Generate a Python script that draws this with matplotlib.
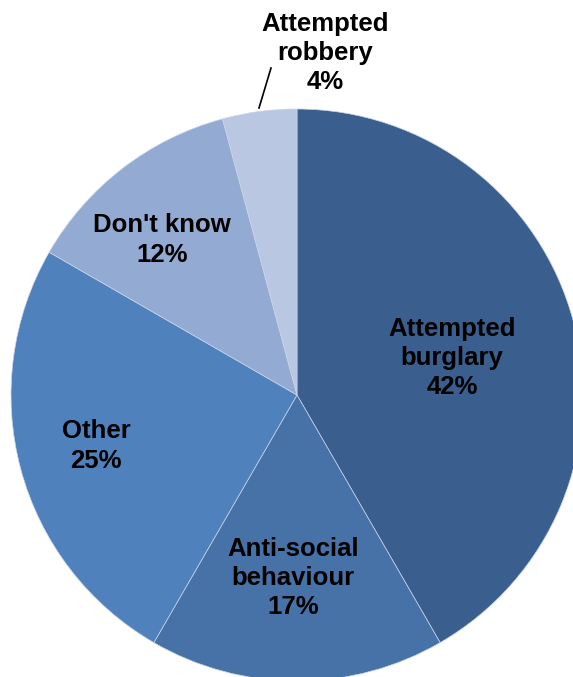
import matplotlib
matplotlib.use("Agg")
import matplotlib.pyplot as plt

categories = ["Attempted\nburglary", "Anti-social\nbehaviour", "Other", "Don't know", "Attempted\nrobbery"]
values = [41.7, 16.7, 25.0, 12.5, 4.2]
pct_labels = ["42%", "17%", "25%", "12%", "4%"]
colors = ["#3A5F8F", "#4672A8", "#4F81BD", "#93ABD2", "#B9C7E2"]

W, H = 573, 677
fig = plt.figure(figsize=(W / 100, H / 100), dpi=100)
ax = fig.add_axes([0, 0, 1, 1])

cx, cy, r = 297, H - 395, 286
wedges, _ = ax.pie(values, colors=colors, startangle=90, counterclock=False,
                   center=(cx, cy), radius=r, frame=True,
                   wedgeprops=dict(edgecolor="#C8D4E8", linewidth=0.5))
ax.set_xlim(0, W)
ax.set_ylim(0, H)
ax.axis("off")

label_pos = [(452, 358), (293, 578), (96, 446), (162, 240), (325, 53)]
for cat, p, (x, y) in zip(categories, pct_labels, label_pos):
    ax.text(x, H - y, f"{cat}\n{p}", ha="center", va="center",
            fontsize=18.5, fontweight="bold", family="Liberation Sans",
            linespacing=1.27, color="black")

ax.plot([259, 271], [H - 108, H - 68], color="black", linewidth=1.2)

fig.savefig("out.png", dpi=100)
